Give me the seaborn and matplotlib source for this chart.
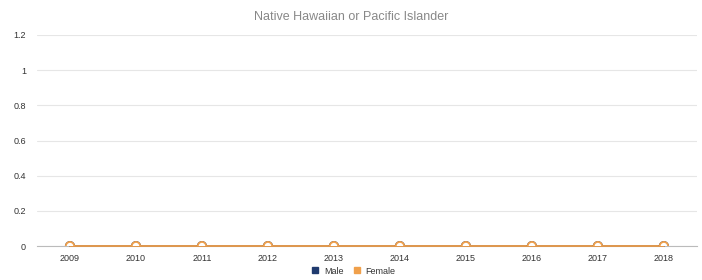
import numpy as np
import pandas as pd
import matplotlib
matplotlib.use("Agg")
import matplotlib.pyplot as plt
import seaborn as sns
from matplotlib.lines import Line2D

years = ["2009", "2010", "2011", "2012", "2013", "2014", "2015", "2016", "2017", "2018"]
male = [0, 0, 0, 0, 0, 0, 0, 0, 0, 0]
female = [0, 0, 0, 0, 0, 0, 0, 0, 0, 0]

df = pd.DataFrame({"year": years * 2,
                   "value": male + female,
                   "sex": ["Male"] * len(years) + ["Female"] * len(years)})

sns.set_style("white")
plt.rcParams['font.family'] = ['Liberation Sans', 'DejaVu Sans']

fig = plt.figure(figsize=(7.02, 2.80), dpi=100)
ax = fig.add_axes([0.0527, 0.121, 0.940, 0.754])

colors = {"Male": "#1f3a6e", "Female": "#f0a04b"}
# lines, drawn over the axis line
sns.lineplot(data=df, x="year", y="value", hue="sex", palette=colors,
             linewidth=1.3, ax=ax, legend=False, clip_on=False, zorder=3)
# hollow markers, clipped at the plot area (half circles like the original)
sns.scatterplot(data=df, x="year", y="value", hue="sex", palette=colors,
                s=36, facecolor="white", linewidth=1.3, ax=ax, legend=False,
                clip_on=True, zorder=4)
for coll in ax.collections:
    coll.set_facecolor("white")
    ec = [colors[s] for s in df["sex"]]
    coll.set_edgecolor(ec)

ax.set_xlim(-0.5, len(years) - 0.5)
ax.set_ylim(0, 1.2)
ax.set_yticks(np.arange(0, 1.21, 0.2))
ax.set_yticklabels(["0", "0.2", "0.4", "0.6", "0.8", "1", "1.2"])
ax.set_xticks(range(len(years)))
ax.set_xticklabels(years)
ax.set_xticks(np.arange(-0.5, len(years), 1), minor=True)
ax.tick_params(axis="x", which="major", length=0, pad=6, labelsize=6.5, labelcolor="#333333")
ax.tick_params(axis="x", which="minor", length=4, color="#aaaaaa", width=0.8)
ax.tick_params(axis="y", length=0, pad=8, labelsize=6.5, labelcolor="#333333")
ax.yaxis.grid(True, color="#e6e6e6", linewidth=0.8)
ax.set_axisbelow(True)
for s in ["top", "right", "left"]:
    ax.spines[s].set_visible(False)
ax.spines["bottom"].set_color("#bbbbbb")
ax.spines["bottom"].set_linewidth(0.8)
ax.set_xlabel("")
ax.set_ylabel("")

fig.suptitle("Native Hawaiian or Pacific Islander", y=0.96, fontsize=9, color="#888888")

handles = [Line2D([], [], marker="s", linestyle="none", color=colors[k], markersize=4.5, label=k)
           for k in ["Male", "Female"]]
fig.legend(handles=handles, loc="center", bbox_to_anchor=(0.5, 0.032), ncol=2, frameon=False,
           fontsize=6.5, handletextpad=0.0, columnspacing=0.4, labelcolor="#333333")

fig.savefig("out.png", dpi=100)
